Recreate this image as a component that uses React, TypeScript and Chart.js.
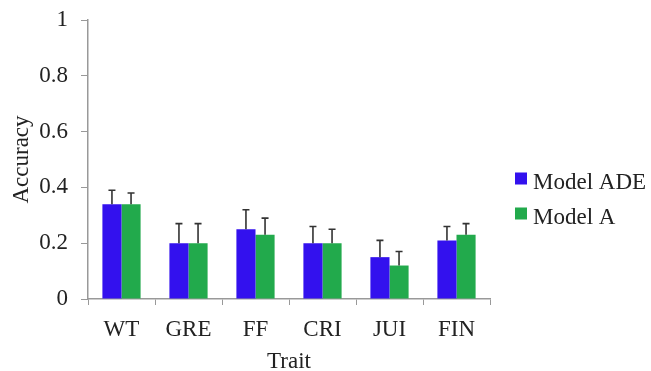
import React, { useEffect, useRef } from "react";
import { Chart, registerables } from "chart.js";

Chart.register(...registerables);

const categories = ["WT", "GRE", "FF", "CRI", "JUI", "FIN"];
const seriesNames = ["Model ADE", "Model A"];
const adeValues = [0.34, 0.2, 0.25, 0.2, 0.15, 0.21];
const aValues = [0.34, 0.2, 0.23, 0.2, 0.12, 0.23];
const adeErrors = [0.05, 0.07, 0.07, 0.06, 0.06, 0.05];
const aErrors = [0.04, 0.07, 0.06, 0.05, 0.05, 0.04];
const seriesColors = ["#3311ee", "#22aa4c"];

const FONT = "'Liberation Serif', 'Times New Roman', serif";
const FS = 23;

const errorBarPlugin = {
  id: "errorBars",
  afterDatasetsDraw(chart: any) {
    const ctx = chart.ctx;
    const yScale = chart.scales.y;
    const errs = [adeErrors, aErrors];
    ctx.save();
    ctx.strokeStyle = "#333333";
    ctx.lineWidth = 1.6;
    chart.data.datasets.forEach((ds: any, di: number) => {
      const meta = chart.getDatasetMeta(di);
      meta.data.forEach((bar: any, i: number) => {
        const v = ds.data[i];
        const top = yScale.getPixelForValue(v + errs[di][i]);
        const base = yScale.getPixelForValue(v);
        const x = bar.x;
        ctx.beginPath();
        ctx.moveTo(x, base);
        ctx.lineTo(x, top);
        ctx.moveTo(x - 3.5, top);
        ctx.lineTo(x + 3.5, top);
        ctx.stroke();
      });
    });
    ctx.restore();
  },
};

const legendPlugin = {
  id: "customLegend",
  afterDraw(chart: any) {
    const ctx = chart.ctx;
    ctx.save();
    ctx.font = `${FS}px ${FONT}`;
    ctx.textBaseline = "alphabetic";
    chart.data.datasets.forEach((ds: any, di: number) => {
      const cy = 178.5 + di * 35;
      ctx.fillStyle = ds.backgroundColor;
      ctx.fillRect(515, cy - 6, 12, 12);
      ctx.fillStyle = "#222222";
      ctx.fillText(ds.label, 533, cy + 10);
    });
    ctx.restore();
  },
};

export default function App() {
  const ref = useRef<HTMLCanvasElement>(null);
  useEffect(() => {
    document.body.style.margin = "0";
    const chart = new Chart(ref.current!, {
      type: "bar",
      data: {
        labels: categories,
        datasets: [
          {
            label: seriesNames[0],
            data: adeValues,
            backgroundColor: seriesColors[0],
            categoryPercentage: 0.57,
            barPercentage: 1,
          },
          {
            label: seriesNames[1],
            data: aValues,
            backgroundColor: seriesColors[1],
            categoryPercentage: 0.57,
            barPercentage: 1,
          },
        ],
      },
      options: {
        animation: false,
        responsive: false,
        maintainAspectRatio: false,
        layout: { padding: { top: 20, right: 161, left: 0, bottom: 0 } },
        plugins: {
          legend: { display: false },
          tooltip: { enabled: false },
        },
        scales: {
          x: {
            afterFit: (s: any) => {
              s.height = 72;
              s.paddingLeft = 0;
              s.paddingRight = 0;
            },
            grid: {
              offset: true,
              drawOnChartArea: false,
              tickLength: 6,
              color: "#999999",
            },
            border: { color: "#999999", width: 1.5 },
            ticks: {
              color: "#222222",
              font: { family: FONT, size: FS },
              padding: 11,
            },
            title: {
              display: true,
              text: "Trait",
              color: "#222222",
              font: { family: FONT, size: FS },
              padding: { top: 0, bottom: -5 },
            },
          },
          y: {
            min: 0,
            max: 1,
            afterFit: (s: any) => {
              s.width = 88;
              s.paddingTop = 0;
              s.paddingBottom = 0;
            },
            grid: {
              drawOnChartArea: false,
              tickLength: 7,
              color: "#999999",
            },
            border: { color: "#999999", width: 1.5 },
            ticks: {
              stepSize: 0.2,
              color: "#222222",
              font: { family: FONT, size: FS },
              padding: 13,
              callback: (v: any) => String(Math.round(Number(v) * 10) / 10),
            },
            title: {
              display: true,
              text: "Accuracy",
              color: "#222222",
              font: { family: FONT, size: FS },
              padding: { top: 8, bottom: 0 },
            },
          },
        },
      },
      plugins: [errorBarPlugin, legendPlugin],
    });
    return () => chart.destroy();
  }, []);
  return (
    <div style={{ width: 651, height: 371 }}>
      <canvas ref={ref} width={651} height={371} />
    </div>
  );
}
